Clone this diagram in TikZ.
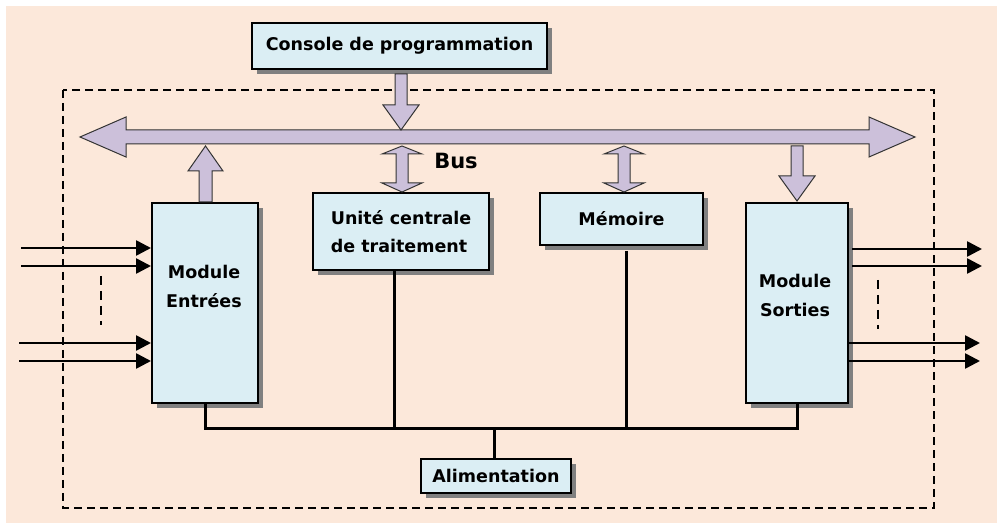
\documentclass[tikz,border=0pt]{standalone}
\usepackage{fontspec}
\setmainfont{DejaVu Sans}
\usetikzlibrary{shadows,arrows.meta}
\definecolor{bgc}{HTML}{FCE8DA}
\definecolor{boxc}{HTML}{DBEEF4}
\definecolor{arrc}{HTML}{CCC0DA}
\definecolor{shc}{HTML}{808080}
\begin{document}
\begin{tikzpicture}[x=1pt,y=-1pt,
 blk/.style={draw=black, line width=2pt, fill=boxc,
   drop shadow={shadow xshift=5pt, shadow yshift=-5pt, fill=shc, opacity=1},
   font=\bfseries\fontsize{17.5}{28}\selectfont, inner sep=0pt, align=center},
 txt/.style={font=\bfseries\fontsize{17.5}{29}\selectfont, inner sep=0pt, align=center},
 fat/.style={fill=arrc, draw=black!80, line width=1pt, line join=miter},
 pwr/.style={line width=3pt},
 sig/.style={line width=2.6pt, -{Triangle[length=15pt,width=15pt]}},
 dsh/.style={line width=2pt, dash pattern=on 8pt off 5pt},
 vdots/.style={line width=2pt, dash pattern=on 9pt off 6pt}]
\useasboundingbox (0,0) rectangle (997,526);
\fill[bgc] (6,6) rectangle (997,523);
% dashed enclosure
\draw[dsh] (63,90) rectangle (934,508);

% blocks
\node[blk, minimum width=295, minimum height=46] (con) at (399.5,46) {Console de programmation};
\node[blk, minimum width=176, minimum height=77, align=left] (uc) at (401,231.5) {Unité centrale\\de traitement};
\node[blk, minimum width=163, minimum height=52] (mem) at (621.5,219) {Mémoire};
\node[blk, minimum width=106, minimum height=200] (inE) at (205,303) {};
\node[txt] (inEt) at (204,286) {Module\\Entrées};
\node[blk, minimum width=102, minimum height=200] (outS) at (797,303) {};
\node[txt] (outSt) at (795,295) {Module\\Sorties};
\node[blk, minimum width=150, minimum height=34] (alim) at (496,476) {Alimentation};
\node[font=\bfseries\fontsize{21}{24}\selectfont, inner sep=0pt] (bus) at (456,161) {Bus};

% bus arrow
\draw[fat] (80,137) -- (126,117) -- (126,130) -- (869,130) -- (869,117) -- (915,137)
  -- (869,157) -- (869,144) -- (126,144) -- (126,157) -- cycle;
% console -> bus
\draw[fat] (395,74) -- (407,74) -- (407,105) -- (419,105) -- (401,130) -- (383,105) -- (395,105) -- cycle;
% entrees -> bus
\draw[fat] (199,202) -- (212,202) -- (212,171) -- (223,171) -- (205.5,146) -- (188,171) -- (199,171) -- cycle;
% bus <-> uc
\draw[fat] (402,146) -- (422,154) -- (408,154) -- (408,183) -- (422,183) -- (402,192)
  -- (382,183) -- (396,183) -- (396,154) -- (382,154) -- cycle;
% bus <-> memoire
\draw[fat] (624,146) -- (644,154) -- (630,154) -- (630,183) -- (644,183) -- (624,192)
  -- (604,183) -- (618,183) -- (618,154) -- (604,154) -- cycle;
% bus -> sorties
\draw[fat] (791,146) -- (803,146) -- (803,176) -- (815,176) -- (797,201) -- (779,176) -- (791,176) -- cycle;

% power distribution
\coordinate (pb) at (0,429);
\draw[pwr] (inE.south) |- (pb -| outS.south) -- (outS.south);
\draw[pwr] ([xshift=-7pt]uc.south) -- ([xshift=-7pt]uc.south |- pb);
\draw[pwr] ([xshift=4.5pt,yshift=-5pt]mem.south) -- ([xshift=4.5pt]mem.south |- pb);
\draw[pwr] ([xshift=-2pt]alim.north |- pb) -- ([xshift=-2pt]alim.north);

% inputs
\coordinate (i1) at (21,248);
\coordinate (i2) at (21,266);
\coordinate (i3) at (19,343);
\coordinate (i4) at (19,361);
\draw[sig] (i1) -- (i1 -| inE.west);
\draw[sig] (i2) -- (i2 -| inE.west);
\draw[sig] (i3) -- (i3 -| inE.west);
\draw[sig] (i4) -- (i4 -| inE.west);
\coordinate (id1) at (101,276);
\coordinate (id2) at (101,325);
\draw[vdots] (id1) -- (id2);

% outputs
\coordinate (o1) at (982,249);
\coordinate (o2) at (982,266);
\coordinate (o3) at (980,343);
\coordinate (o4) at (980,361);
\draw[sig] ([xshift=3pt]o1 -| outS.east) -- (o1);
\draw[sig] ([xshift=3pt]o2 -| outS.east) -- (o2);
\draw[sig] (o3 -| outS.east) -- (o3);
\draw[sig] (o4 -| outS.east) -- (o4);
\coordinate (od1) at (878,280);
\coordinate (od2) at (878,329);
\draw[vdots] (od1) -- (od2);
\end{tikzpicture}
\end{document}
